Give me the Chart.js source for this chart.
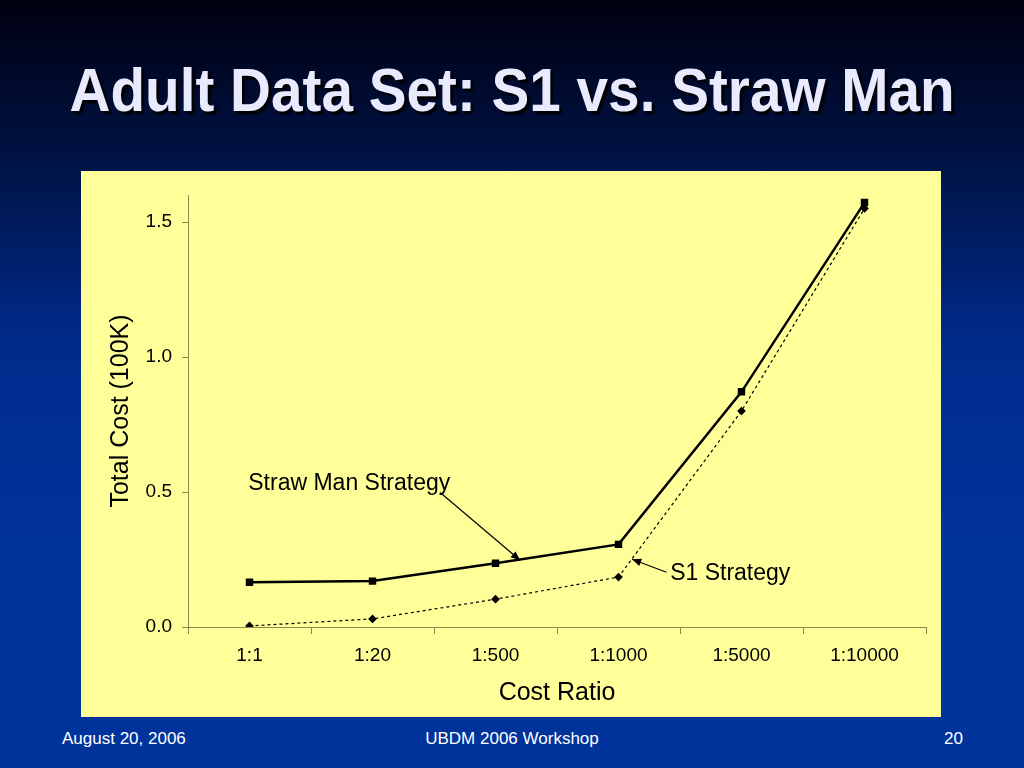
<!DOCTYPE html>
<html>
<head>
<meta charset="utf-8">
<script src="https://cdn.jsdelivr.net/npm/chart.js@4.4.1/dist/chart.umd.min.js"></script>
<style>
  html, body { margin: 0; padding: 0; }
  body {
    width: 1024px; height: 768px; overflow: hidden; position: relative;
    background: linear-gradient(to bottom, #000010 0%, #001448 22%, #002b8c 45%, #00339a 70%, #00349c 100%);
    font-family: "Liberation Sans", Arial, sans-serif;
  }
  #title {
    position: absolute; left: 0; top: 50px; width: 1024px; text-align: center;
    color: #eaeaff; font-weight: bold; font-size: 62px; line-height: 80px;
    text-shadow: 3px 3px 2px #000;
    white-space: nowrap;
  }
  #title span { display: inline-block; transform-origin: center; }
  #box {
    position: absolute; left: 81px; top: 171px; width: 860px; height: 546px;
    background: #ffff99;
  }
  .foot { position: absolute; top: 729px; color: #fff; font-size: 17px; }
</style>
</head>
<body>
<div id="title"><span id="tspan">Adult Data Set: S1 vs. Straw Man</span></div>
<div id="box"><canvas id="myChart" width="860" height="546"></canvas></div>
<div class="foot" style="left:62px">August 20, 2006</div>
<div class="foot" style="left:0;width:1024px;text-align:center">UBDM 2006 Workshop</div>
<div class="foot" style="left:944px">20</div>
<script>
// squeeze title to the reference width
const tspan = document.getElementById('tspan');
tspan.style.transform = 'scaleX(' + (885 / tspan.offsetWidth) + ')';

const labels = ['1:1', '1:20', '1:500', '1:1000', '1:5000', '1:10000'];
const strawMan = [0.166, 0.170, 0.236, 0.306, 0.871, 1.572];
const s1 = [0.004, 0.030, 0.103, 0.185, 0.800, 1.550];
const yTicks = [0.0, 0.5, 1.0, 1.5];

// callouts, positioned in data space (category index, value)
const callouts = [
    { text: 'Straw Man Strategy', tx: -0.01, ty: 0.531, from: [1.55, 0.498], to: [2.2, 0.247] },
    { text: 'S1 Strategy', tx: 3.42, ty: 0.196, from: [3.39, 0.203], to: [3.11, 0.251] }
];

const calloutPlugin = {
    id: 'callouts',
    afterDatasetsDraw(chart) {
        const c = chart.ctx, xs = chart.scales.x, ys = chart.scales.y;
        const px = v => xs.getPixelForValue(0) + v * (xs.getPixelForValue(1) - xs.getPixelForValue(0));
        c.save();
        c.fillStyle = '#000';
        c.strokeStyle = '#000';
        c.font = '23px "Liberation Sans", Arial, sans-serif';
        c.textBaseline = 'middle';
        callouts.forEach(o => {
            c.fillText(o.text, px(o.tx), ys.getPixelForValue(o.ty));
            const x1 = px(o.from[0]), y1 = ys.getPixelForValue(o.from[1]);
            const x2 = px(o.to[0]), y2 = ys.getPixelForValue(o.to[1]);
            c.lineWidth = 1.2;
            c.beginPath(); c.moveTo(x1, y1); c.lineTo(x2, y2); c.stroke();
            const a = Math.atan2(y2 - y1, x2 - x1), L = 10, w = 0.4;
            c.beginPath();
            c.moveTo(x2, y2);
            c.lineTo(x2 - L * Math.cos(a - w), y2 - L * Math.sin(a - w));
            c.lineTo(x2 - L * Math.cos(a + w), y2 - L * Math.sin(a + w));
            c.closePath(); c.fill();
        });
        c.restore();
    }
};

const axisColor = '#8a8a50';

new Chart(document.getElementById('myChart'), {
    type: 'line',
    data: {
        labels: labels,
        datasets: [
            {
                label: 'Straw Man Strategy',
                data: strawMan,
                borderColor: '#000',
                backgroundColor: '#000',
                borderWidth: 2.5,
                pointStyle: 'rect',
                pointRadius: 3.5,
                tension: 0
            },
            {
                label: 'S1 Strategy',
                data: s1,
                borderColor: '#000',
                backgroundColor: '#000',
                borderWidth: 1.2,
                borderDash: [3, 3],
                pointStyle: 'rectRot',
                pointRadius: 3.5,
                tension: 0
            }
        ]
    },
    options: {
        responsive: false,
        animation: false,
        layout: { padding: { left: 21, right: 15, top: 24, bottom: 0 } },
        plugins: { legend: { display: false }, tooltip: { enabled: false } },
        scales: {
            x: {
                offset: true,
                grid: { display: true, drawOnChartArea: false, offset: true, color: axisColor, tickLength: 7 },
                border: { color: axisColor, width: 1 },
                ticks: { color: '#000', font: { size: 19, family: '"Liberation Sans", Arial' }, padding: 10 },
                title: { display: true, text: 'Cost Ratio', color: '#000', font: { size: 25, family: '"Liberation Sans", Arial' }, padding: { top: 4, bottom: 9 } },
                afterFit: s => { s.height = 90; }
            },
            y: {
                min: 0, max: 1.6,
                afterBuildTicks: s => { s.ticks = yTicks.map(v => ({ value: v })); },
                grid: { display: true, drawOnChartArea: false, color: axisColor, tickLength: 6 },
                border: { color: axisColor, width: 1 },
                ticks: { color: '#000', font: { size: 19, family: '"Liberation Sans", Arial' }, padding: 10, callback: v => v.toFixed(1) },
                title: { display: true, text: 'Total Cost (100K)', color: '#000', font: { size: 25, family: '"Liberation Sans", Arial' }, padding: { bottom: 4 } },
                afterFit: s => { s.width = 86; }
            }
        }
    },
    plugins: [calloutPlugin]
});
</script>
</body>
</html>
